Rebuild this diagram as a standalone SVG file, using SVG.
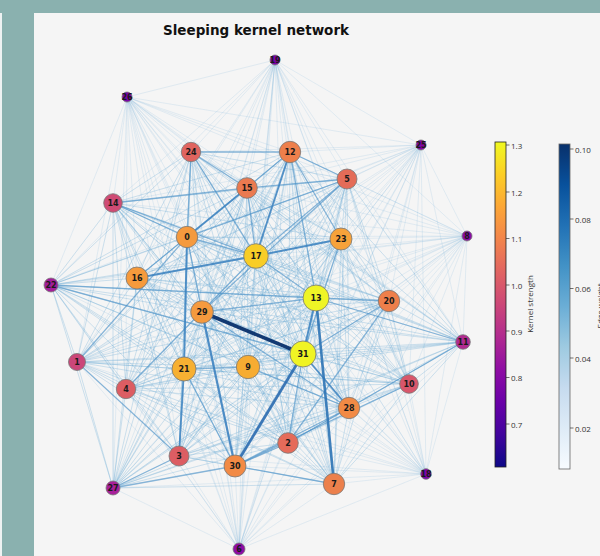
<svg xmlns="http://www.w3.org/2000/svg" width="600" height="556" viewBox="0 0 600 556">
<defs>
<style>
.p{fill:none;stroke:#6baed6;stroke-opacity:0.2;stroke-width:0.8}
.c{fill:none;stroke:#6aaad6;stroke-opacity:0.33;stroke-width:0.95}
.m{fill:none;stroke:#4a8fc7;stroke-opacity:0.55;stroke-width:1.3}
.s{fill:none;stroke:#3d82c0;stroke-opacity:0.85;stroke-width:1.9}
.n circle{stroke:#777;stroke-width:0.8}
.n text{font-family:"DejaVu Sans",sans-serif;font-weight:bold;font-size:8px;fill:#1a1a1a;text-anchor:middle;dominant-baseline:central}
.tk{stroke:#333;stroke-width:0.7}
.tl{font-family:"Open Sans","Liberation Sans",sans-serif;font-size:8px;fill:#333;dominant-baseline:central}
</style>
<linearGradient id="plasma" x1="0" y1="0" x2="0" y2="1">
<stop offset="0" stop-color="#f0f921"/><stop offset="0.1" stop-color="#fcce25"/><stop offset="0.2" stop-color="#fca636"/><stop offset="0.3" stop-color="#f2844b"/><stop offset="0.4" stop-color="#e16462"/><stop offset="0.5" stop-color="#cc4778"/><stop offset="0.6" stop-color="#b12a90"/><stop offset="0.7" stop-color="#8f0da4"/><stop offset="0.8" stop-color="#6a00a8"/><stop offset="0.9" stop-color="#41049d"/><stop offset="1" stop-color="#0d0887"/>
</linearGradient>
<linearGradient id="blues" x1="0" y1="0" x2="0" y2="1">
<stop offset="0" stop-color="#08306b"/><stop offset="0.125" stop-color="#08519c"/><stop offset="0.25" stop-color="#2171b5"/><stop offset="0.375" stop-color="#4292c6"/><stop offset="0.5" stop-color="#6baed6"/><stop offset="0.625" stop-color="#9ecae1"/><stop offset="0.75" stop-color="#c6dbef"/><stop offset="0.875" stop-color="#deebf7"/><stop offset="1" stop-color="#f7fbff"/>
</linearGradient>
</defs>
<rect x="0" y="0" width="600" height="556" fill="#8ab1af"/>
<rect x="0" y="13" width="2" height="543" fill="#eef2f2"/>
<rect x="34" y="13" width="566" height="543" fill="#f5f5f5"/>
<text x="256" y="35" font-family="DejaVu Sans,sans-serif" font-weight="bold" font-size="13.5" fill="#111" text-anchor="middle">Sleeping kernel network</text>
<g id="connectors">
<g id="faint-peripheral">
<path class="p" d="M275 60L187 237M275 60L77 362M275 60L288 443M275 60L179 456M275 60L126 389M275 60L347 179M275 60L334 484M275 60L248 367M275 60L409 384M275 60L463 342M275 60L290 152M275 60L316 298M275 60L113 203M275 60L247 188M275 60L137 278M275 60L256 256M275 60L389 301M275 60L184 369M275 60L51 285M275 60L341 239M275 60L191 152M275 60L113 488M275 60L349 408M275 60L202 312M275 60L235 466M275 60L303 354M275 60L127 97M275 60L421 145M275 60L467 236M275 60L426 474M275 60L239 549"/>
<path class="p" d="M127 97L187 237M127 97L77 362M127 97L288 443M127 97L179 456M127 97L126 389M127 97L347 179M127 97L334 484M127 97L248 367M127 97L409 384M127 97L463 342M127 97L290 152M127 97L316 298M127 97L113 203M127 97L247 188M127 97L137 278M127 97L256 256M127 97L389 301M127 97L184 369M127 97L51 285M127 97L341 239M127 97L191 152M127 97L113 488M127 97L349 408M127 97L202 312M127 97L235 466M127 97L303 354M127 97L421 145M127 97L467 236M127 97L426 474M127 97L239 549"/>
<path class="p" d="M421 145L187 237M421 145L77 362M421 145L288 443M421 145L179 456M421 145L126 389M421 145L347 179M421 145L334 484M421 145L248 367M421 145L409 384M421 145L463 342M421 145L290 152M421 145L316 298M421 145L113 203M421 145L247 188M421 145L137 278M421 145L256 256M421 145L389 301M421 145L184 369M421 145L51 285M421 145L341 239M421 145L191 152M421 145L113 488M421 145L349 408M421 145L202 312M421 145L235 466M421 145L303 354M421 145L467 236M421 145L426 474M421 145L239 549"/>
<path class="p" d="M467 236L187 237M467 236L77 362M467 236L288 443M467 236L179 456M467 236L126 389M467 236L347 179M467 236L334 484M467 236L248 367M467 236L409 384M467 236L463 342M467 236L290 152M467 236L316 298M467 236L113 203M467 236L247 188M467 236L137 278M467 236L256 256M467 236L389 301M467 236L184 369M467 236L51 285M467 236L341 239M467 236L191 152M467 236L113 488M467 236L349 408M467 236L202 312M467 236L235 466M467 236L303 354M467 236L426 474M467 236L239 549"/>
<path class="p" d="M426 474L187 237M426 474L77 362M426 474L288 443M426 474L179 456M426 474L126 389M426 474L347 179M426 474L334 484M426 474L248 367M426 474L409 384M426 474L463 342M426 474L290 152M426 474L316 298M426 474L113 203M426 474L247 188M426 474L137 278M426 474L256 256M426 474L389 301M426 474L184 369M426 474L51 285M426 474L341 239M426 474L191 152M426 474L113 488M426 474L349 408M426 474L202 312M426 474L235 466M426 474L303 354M426 474L239 549"/>
<path class="p" d="M239 549L187 237M239 549L77 362M239 549L288 443M239 549L179 456M239 549L126 389M239 549L347 179M239 549L334 484M239 549L248 367M239 549L409 384M239 549L463 342M239 549L290 152M239 549L316 298M239 549L113 203M239 549L247 188M239 549L137 278M239 549L256 256M239 549L389 301M239 549L184 369M239 549L51 285M239 549L341 239M239 549L191 152M239 549L113 488M239 549L349 408M239 549L202 312M239 549L235 466M239 549L303 354"/>
</g>
<g id="faint-core">
<path class="c" d="M187 237L77 362M187 237L288 443M187 237L179 456M187 237L126 389M187 237L347 179M187 237L334 484M187 237L248 367M187 237L409 384M187 237L463 342M187 237L290 152M187 237L316 298M187 237L113 203M187 237L247 188M187 237L137 278M187 237L256 256M187 237L389 301M187 237L184 369M187 237L51 285M187 237L341 239M187 237L191 152M187 237L113 488M187 237L349 408M187 237L202 312M187 237L235 466M187 237L303 354"/>
<path class="c" d="M77 362L288 443M77 362L179 456M77 362L126 389M77 362L347 179M77 362L334 484M77 362L248 367M77 362L409 384M77 362L463 342M77 362L290 152M77 362L316 298M77 362L113 203M77 362L247 188M77 362L137 278M77 362L256 256M77 362L389 301M77 362L184 369M77 362L51 285M77 362L341 239M77 362L191 152M77 362L113 488M77 362L349 408M77 362L202 312M77 362L235 466M77 362L303 354"/>
<path class="c" d="M288 443L179 456M288 443L126 389M288 443L347 179M288 443L334 484M288 443L248 367M288 443L409 384M288 443L463 342M288 443L290 152M288 443L316 298M288 443L113 203M288 443L247 188M288 443L137 278M288 443L256 256M288 443L389 301M288 443L184 369M288 443L51 285M288 443L341 239M288 443L191 152M288 443L113 488M288 443L349 408M288 443L202 312M288 443L235 466M288 443L303 354"/>
<path class="c" d="M179 456L126 389M179 456L347 179M179 456L334 484M179 456L248 367M179 456L409 384M179 456L463 342M179 456L290 152M179 456L316 298M179 456L113 203M179 456L247 188M179 456L137 278M179 456L256 256M179 456L389 301M179 456L184 369M179 456L51 285M179 456L341 239M179 456L191 152M179 456L113 488M179 456L349 408M179 456L202 312M179 456L235 466M179 456L303 354"/>
<path class="c" d="M126 389L347 179M126 389L334 484M126 389L248 367M126 389L409 384M126 389L463 342M126 389L290 152M126 389L316 298M126 389L113 203M126 389L247 188M126 389L137 278M126 389L256 256M126 389L389 301M126 389L184 369M126 389L51 285M126 389L341 239M126 389L191 152M126 389L113 488M126 389L349 408M126 389L202 312M126 389L235 466M126 389L303 354"/>
<path class="c" d="M347 179L334 484M347 179L248 367M347 179L409 384M347 179L463 342M347 179L290 152M347 179L316 298M347 179L113 203M347 179L247 188M347 179L137 278M347 179L256 256M347 179L389 301M347 179L184 369M347 179L51 285M347 179L341 239M347 179L191 152M347 179L113 488M347 179L349 408M347 179L202 312M347 179L235 466M347 179L303 354"/>
<path class="c" d="M334 484L248 367M334 484L409 384M334 484L463 342M334 484L290 152M334 484L316 298M334 484L113 203M334 484L247 188M334 484L137 278M334 484L256 256M334 484L389 301M334 484L184 369M334 484L51 285M334 484L341 239M334 484L191 152M334 484L113 488M334 484L349 408M334 484L202 312M334 484L235 466M334 484L303 354"/>
<path class="c" d="M248 367L409 384M248 367L463 342M248 367L290 152M248 367L316 298M248 367L113 203M248 367L247 188M248 367L137 278M248 367L256 256M248 367L389 301M248 367L184 369M248 367L51 285M248 367L341 239M248 367L191 152M248 367L113 488M248 367L349 408M248 367L202 312M248 367L235 466M248 367L303 354"/>
<path class="c" d="M409 384L463 342M409 384L290 152M409 384L316 298M409 384L113 203M409 384L247 188M409 384L137 278M409 384L256 256M409 384L389 301M409 384L184 369M409 384L51 285M409 384L341 239M409 384L191 152M409 384L113 488M409 384L349 408M409 384L202 312M409 384L235 466M409 384L303 354"/>
<path class="c" d="M463 342L290 152M463 342L316 298M463 342L113 203M463 342L247 188M463 342L137 278M463 342L256 256M463 342L389 301M463 342L184 369M463 342L51 285M463 342L341 239M463 342L191 152M463 342L113 488M463 342L349 408M463 342L202 312M463 342L235 466M463 342L303 354"/>
<path class="c" d="M290 152L316 298M290 152L113 203M290 152L247 188M290 152L137 278M290 152L256 256M290 152L389 301M290 152L184 369M290 152L51 285M290 152L341 239M290 152L191 152M290 152L113 488M290 152L349 408M290 152L202 312M290 152L235 466M290 152L303 354"/>
<path class="c" d="M316 298L113 203M316 298L247 188M316 298L137 278M316 298L256 256M316 298L389 301M316 298L184 369M316 298L51 285M316 298L341 239M316 298L191 152M316 298L113 488M316 298L349 408M316 298L202 312M316 298L235 466M316 298L303 354"/>
<path class="c" d="M113 203L247 188M113 203L137 278M113 203L256 256M113 203L389 301M113 203L184 369M113 203L51 285M113 203L341 239M113 203L191 152M113 203L113 488M113 203L349 408M113 203L202 312M113 203L235 466M113 203L303 354"/>
<path class="c" d="M247 188L137 278M247 188L256 256M247 188L389 301M247 188L184 369M247 188L51 285M247 188L341 239M247 188L191 152M247 188L113 488M247 188L349 408M247 188L202 312M247 188L235 466M247 188L303 354"/>
<path class="c" d="M137 278L256 256M137 278L389 301M137 278L184 369M137 278L51 285M137 278L341 239M137 278L191 152M137 278L113 488M137 278L349 408M137 278L202 312M137 278L235 466M137 278L303 354"/>
<path class="c" d="M256 256L389 301M256 256L184 369M256 256L51 285M256 256L341 239M256 256L191 152M256 256L113 488M256 256L349 408M256 256L202 312M256 256L235 466M256 256L303 354"/>
<path class="c" d="M389 301L184 369M389 301L51 285M389 301L341 239M389 301L191 152M389 301L113 488M389 301L349 408M389 301L202 312M389 301L235 466M389 301L303 354"/>
<path class="c" d="M184 369L51 285M184 369L341 239M184 369L191 152M184 369L113 488M184 369L349 408M184 369L202 312M184 369L235 466M184 369L303 354"/>
<path class="c" d="M51 285L341 239M51 285L191 152M51 285L113 488M51 285L349 408M51 285L202 312M51 285L235 466M51 285L303 354"/>
<path class="c" d="M341 239L191 152M341 239L113 488M341 239L349 408M341 239L202 312M341 239L235 466M341 239L303 354"/>
<path class="c" d="M191 152L113 488M191 152L349 408M191 152L202 312M191 152L235 466M191 152L303 354"/>
<path class="c" d="M113 488L349 408M113 488L202 312M113 488L235 466M113 488L303 354"/>
<path class="c" d="M349 408L202 312M349 408L235 466M349 408L303 354"/>
<path class="c" d="M202 312L235 466M202 312L303 354"/>
<path class="c" d="M235 466L303 354"/>
</g>
<g id="medium-edges">
<path class="m" d="M290 152L247 188"/>
<path class="m" d="M187 237L137 278"/>
<path class="m" d="M247 188L256 256"/>
<path class="m" d="M187 237L256 256"/>
<path class="m" d="M256 256L316 298"/>
<path class="m" d="M290 152L316 298"/>
<path class="m" d="M290 152L341 239"/>
<path class="m" d="M347 179L247 188"/>
<path class="m" d="M347 179L187 237"/>
<path class="m" d="M347 179L256 256"/>
<path class="m" d="M347 179L202 312"/>
<path class="m" d="M191 152L256 256"/>
<path class="m" d="M191 152L247 188"/>
<path class="m" d="M191 152L187 237"/>
<path class="m" d="M113 203L187 237"/>
<path class="m" d="M113 203L247 188"/>
<path class="m" d="M113 203L256 256"/>
<path class="m" d="M316 298L389 301"/>
<path class="m" d="M316 298L463 342"/>
<path class="m" d="M202 312L349 408"/>
<path class="m" d="M51 285L303 354"/>
<path class="m" d="M184 369L235 466"/>
<path class="m" d="M113 488L235 466"/>
<path class="m" d="M113 488L179 456"/>
<path class="m" d="M77 362L187 237"/>
<path class="m" d="M77 362L179 456"/>
<path class="m" d="M235 466L334 484"/>
<path class="m" d="M349 408L235 466"/>
<path class="m" d="M288 443L235 466"/>
<path class="m" d="M389 301L288 443"/>
<path class="m" d="M409 384L235 466"/>
<path class="m" d="M248 367L349 408"/>
<path class="m" d="M51 285L316 298"/>
<path class="m" d="M202 312L316 298"/>
<path class="m" d="M126 389L256 256"/>
<path class="m" d="M191 152L290 152"/>
<path class="m" d="M389 301L303 354"/>
<path class="m" d="M341 239L303 354"/>
<path class="m" d="M290 152L347 179"/>
<path class="m" d="M288 443L349 408"/>
<path class="m" d="M303 354L288 443"/>
<path class="m" d="M463 342L349 408"/>
<path class="m" d="M187 237L202 312"/>
<path class="m" d="M184 369L248 367"/>
</g>
<g id="strong-edges">
<path class="s" d="M247 188L187 237"/>
<path class="s" d="M137 278L256 256"/>
<path class="s" d="M256 256L341 239"/>
<path class="s" d="M290 152L256 256"/>
<path class="s" d="M187 237L184 369"/>
<path class="s" d="M184 369L179 456"/>
<path class="s" d="M316 298L303 354"/>
<path class="s" d="M303 354L349 408"/>
<path class="s" d="M202 312L235 466" style="stroke-width:2.2;stroke:#3a7fbe"/>
<path class="s" d="M316 298L334 484" style="stroke-width:2.6;stroke:#2f74b5;stroke-opacity:0.9"/>
<path class="s" d="M303 354L235 466" style="stroke-width:2.8;stroke:#2b6cb0;stroke-opacity:0.9"/>
<path class="s" d="M202 312L303 354" style="stroke-width:3.6;stroke:#08306b;stroke-opacity:0.95"/>
</g>
</g>
<g id="nodes">
<g id="node-0" class="n"><circle cx="187" cy="237" r="10.7" fill="#f59a3e"/><text x="187" y="237">0</text></g>
<g id="node-1" class="n"><circle cx="77" cy="362" r="8.5" fill="#cb4679"/><text x="77" y="362">1</text></g>
<g id="node-2" class="n"><circle cx="288" cy="443" r="10.3" fill="#e56b5a"/><text x="288" y="443">2</text></g>
<g id="node-3" class="n"><circle cx="179" cy="456" r="10" fill="#dc5d63"/><text x="179" y="456">3</text></g>
<g id="node-4" class="n"><circle cx="126" cy="389" r="9.7" fill="#dc5d63"/><text x="126" y="389">4</text></g>
<g id="node-5" class="n"><circle cx="347" cy="179" r="10" fill="#e46c58"/><text x="347" y="179">5</text></g>
<g id="node-6" class="n"><circle cx="239" cy="549" r="6" fill="#8e0ca4"/><text x="239" y="549">6</text></g>
<g id="node-7" class="n"><circle cx="334" cy="484" r="10.7" fill="#ec804c"/><text x="334" y="484">7</text></g>
<g id="node-8" class="n"><circle cx="467" cy="236" r="5" fill="#8a0aa5"/><text x="467" y="236">8</text></g>
<g id="node-9" class="n"><circle cx="248" cy="367" r="11.7" fill="#f7ac32"/><text x="248" y="367">9</text></g>
<g id="node-10" class="n"><circle cx="409" cy="384" r="9.3" fill="#d8566b"/><text x="409" y="384">10</text></g>
<g id="node-11" class="n"><circle cx="463" cy="342" r="7.3" fill="#b12a90"/><text x="463" y="342">11</text></g>
<g id="node-12" class="n"><circle cx="290" cy="152" r="10.7" fill="#ee7f4b"/><text x="290" y="152">12</text></g>
<g id="node-13" class="n"><circle cx="316" cy="298" r="13" fill="#eff526"/><text x="316" y="298">13</text></g>
<g id="node-14" class="n"><circle cx="113" cy="203" r="9.3" fill="#cf4b74"/><text x="113" y="203">14</text></g>
<g id="node-15" class="n"><circle cx="247" cy="188" r="10.3" fill="#ea7a50"/><text x="247" y="188">15</text></g>
<g id="node-16" class="n"><circle cx="137" cy="278" r="11" fill="#f69a3c"/><text x="137" y="278">16</text></g>
<g id="node-17" class="n"><circle cx="256" cy="256" r="12.3" fill="#f8cd27"/><text x="256" y="256">17</text></g>
<g id="node-18" class="n"><circle cx="426" cy="474" r="5.3" fill="#7e06a7"/><text x="426" y="474">18</text></g>
<g id="node-19" class="n"><circle cx="275" cy="60" r="5" fill="#7a04a8"/><text x="275" y="60">19</text></g>
<g id="node-20" class="n"><circle cx="389" cy="301" r="10.7" fill="#ee7f4b"/><text x="389" y="301">20</text></g>
<g id="node-21" class="n"><circle cx="184" cy="369" r="12" fill="#f7b032"/><text x="184" y="369">21</text></g>
<g id="node-22" class="n"><circle cx="51" cy="285" r="7" fill="#a21d9a"/><text x="51" y="285">22</text></g>
<g id="node-23" class="n"><circle cx="341" cy="239" r="11" fill="#f7a23a"/><text x="341" y="239">23</text></g>
<g id="node-24" class="n"><circle cx="191" cy="152" r="9.7" fill="#e0645f"/><text x="191" y="152">24</text></g>
<g id="node-25" class="n"><circle cx="421" cy="145" r="5" fill="#8306a6"/><text x="421" y="145">25</text></g>
<g id="node-26" class="n"><circle cx="127" cy="97" r="5" fill="#7a04a8"/><text x="127" y="97">26</text></g>
<g id="node-27" class="n"><circle cx="113" cy="488" r="7" fill="#a8209a"/><text x="113" y="488">27</text></g>
<g id="node-28" class="n"><circle cx="349" cy="408" r="10.7" fill="#f28a45"/><text x="349" y="408">28</text></g>
<g id="node-29" class="n"><circle cx="202" cy="312" r="11.3" fill="#f59a3e"/><text x="202" y="312">29</text></g>
<g id="node-30" class="n"><circle cx="235" cy="466" r="11" fill="#f28a45"/><text x="235" y="466">30</text></g>
<g id="node-31" class="n"><circle cx="303" cy="354" r="13" fill="#f0f424"/><text x="303" y="354">31</text></g>
</g>
<g id="kernel-colorbar">
<rect x="495" y="142" width="11" height="325" fill="url(#plasma)" stroke="#222" stroke-width="0.8"/>
<path class="tk" d="M506 145H509.5M506 192H509.5M506 238.5H509.5M506 285H509.5M506 331H509.5M506 377.5H509.5M506 424H509.5"/>
<text class="tl" x="511" y="145">1.3</text>
<text class="tl" x="511" y="192">1.2</text>
<text class="tl" x="511" y="238.5">1.1</text>
<text class="tl" x="511" y="285">1.0</text>
<text class="tl" x="511" y="331">0.9</text>
<text class="tl" x="511" y="377.5">0.8</text>
<text class="tl" x="511" y="424">0.7</text>
<text x="533" y="304" transform="rotate(-90 533 304)" font-family="Open Sans,Liberation Sans,sans-serif" font-size="8" fill="#333" text-anchor="middle">Kernel strength</text>
</g>
<g id="edge-colorbar">
<rect x="559" y="144" width="11" height="325" fill="url(#blues)" stroke="#666" stroke-width="0.8"/>
<path class="tk" d="M570 149H573.5M570 219H573.5M570 288.5H573.5M570 358H573.5M570 428H573.5"/>
<text class="tl" x="575" y="149">0.10</text>
<text class="tl" x="575" y="219">0.08</text>
<text class="tl" x="575" y="288.5">0.06</text>
<text class="tl" x="575" y="358">0.04</text>
<text class="tl" x="575" y="428">0.02</text>
<text x="603" y="306" transform="rotate(-90 603 306)" font-family="Open Sans,Liberation Sans,sans-serif" font-size="8" fill="#333" text-anchor="middle">Edge weight</text>
</g>
</svg>
